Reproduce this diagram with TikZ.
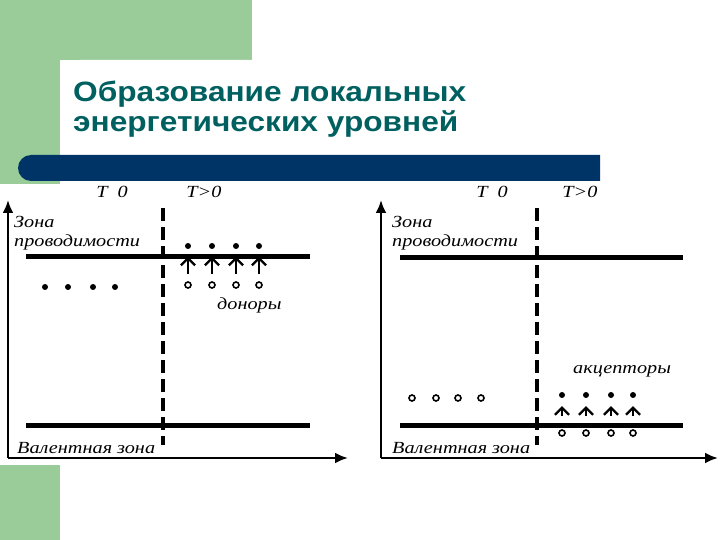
\documentclass[tikz,border=0pt]{standalone}
\usepackage{fontspec}
\setmainfont{Liberation Serif}
\newfontfamily\titlefont{Liberation Sans}[FakeStretch=1.13]
\newfontfamily\labfont{Liberation Serif}[FakeStretch=1.19]
\usetikzlibrary{arrows.meta}
\definecolor{bggreen}{RGB}{153,204,153}
\definecolor{barnavy}{RGB}{0,51,102}
\definecolor{titleteal}{RGB}{0,96,96}
\tikzset{
  ttl/.style={anchor=base west, inner sep=0pt, font=\titlefont\bfseries\fontsize{28}{30}\selectfont, text=titleteal},
  lab/.style={anchor=base west, inner sep=0pt, font=\labfont\itshape\fontsize{17}{19}\selectfont},
  tlab/.style={anchor=base, inner sep=0pt, font=\labfont\itshape\fontsize{17}{19}\selectfont},
  axis/.style={line width=2.5pt, -{Latex[length=13pt,width=11pt]}},
  band/.style={line width=5pt},
  divider/.style={line width=4pt, dash pattern=on 13pt off 6pt},
  fdot/.style={circle, fill=black, inner sep=0pt, minimum size=6pt},
  odot/.style={circle, draw=black, line width=1.6pt, fill=white, inner sep=0pt, minimum size=6pt},
  uparr/.style={line width=2.2pt, -{Straight Barb[length=7pt,width=14pt]}},
}
\begin{document}
\begin{tikzpicture}[x=1pt,y=-1pt]
\useasboundingbox (0,0) rectangle (720,540);
% background
\fill[white] (0,0) rectangle (720,540);
\fill[bggreen] (0,0) rectangle (252,60);
\fill[bggreen] (0,0) rectangle (60,540);
\fill[white] (60,540) -- (60,80) arc[start angle=180,end angle=270,radius=20] -- (720,60) -- (720,540) -- cycle;
\fill[barnavy] (31,155) -- (600,155) -- (600,181) -- (31,181) arc[start angle=90,end angle=270,radius=13] -- cycle;
\fill[white] (0,184) rectangle (720,465);
% title
\node[ttl] (title1) at (73,101.5) {Образование локальных};
\node[ttl] (title2) at (73,131.5) {энергетических уровней};

% ===== left panel =====
\coordinate (lo) at (8,458);
\coordinate (ltop) at (8,200);
\coordinate (lright) at (348,458);
\draw[axis] (lo) -- (ltop);
\draw[axis] (lo) -- (lright);
\coordinate (lcb1) at (26,256); \coordinate (lcb2) at (310,256);
\coordinate (lvb1) at (26,425); \coordinate (lvb2) at (310,425);
\draw[band] (lcb1) -- (lcb2);
\draw[band] (lvb1) -- (lvb2);
\coordinate (ld1) at (163,208); \coordinate (ld2) at (163,445);
\draw[divider] (ld1) -- (ld2);
\node[tlab] (lt0) at (112,197) {T\hspace{10pt}0};
\node[tlab] (lt1) at (204,197) {T>0};
\node[lab] (lzona) at (14,227) {Зона};
\node[lab] (lprov) at (14,246) {проводимости};
\node[lab] (lval) at (17,453) {Валентная зона};
\node[lab] (donory) at (217,309) {доноры};
\foreach \i/\x in {1/45,2/68,3/93,4/115} {
  \node[fdot] (lz\i) at (\x,287) {};
}
\foreach \i/\x in {1/188,2/212,3/236,4/259} {
  \node[fdot] (lf\i) at (\x,246) {};
  \node[odot] (lo\i) at (\x,285) {};
  \draw[uparr, shorten <=7pt, shorten >=7.5pt] (lo\i) -- (lf\i);
}

% ===== right panel =====
\coordinate (ro) at (381,458);
\coordinate (rtop) at (381,200);
\coordinate (rright) at (718,458);
\draw[axis] (ro) -- (rtop);
\draw[axis] (ro) -- (rright);
\coordinate (rcb1) at (400,257); \coordinate (rcb2) at (683,257);
\coordinate (rvb1) at (400,425); \coordinate (rvb2) at (683,425);
\draw[band] (rcb1) -- (rcb2);
\draw[band] (rvb1) -- (rvb2);
\coordinate (rd1) at (537,208); \coordinate (rd2) at (537,445);
\draw[divider] (rd1) -- (rd2);
\node[tlab] (rt0) at (492,197) {T\hspace{10pt}0};
\node[tlab] (rt1) at (580,197) {T>0};
\node[lab] (rzona) at (392,227) {Зона};
\node[lab] (rprov) at (392,246) {проводимости};
\node[lab] (rval) at (392,453) {Валентная зона};
\node[lab] (akc) at (573,373) {акцепторы};
\foreach \i/\x in {1/412,2/436,3/458,4/481} {
  \node[odot] (rz\i) at (\x,398) {};
}
\foreach \i/\x in {1/562,2/586,3/611,4/633} {
  \node[fdot] (rf\i) at (\x,395) {};
  \node[odot] (ro\i) at (\x,433) {};
  \draw[uparr, shorten <=13pt, shorten >=8pt] (ro\i) -- (rf\i);
}
\end{tikzpicture}
\end{document}
